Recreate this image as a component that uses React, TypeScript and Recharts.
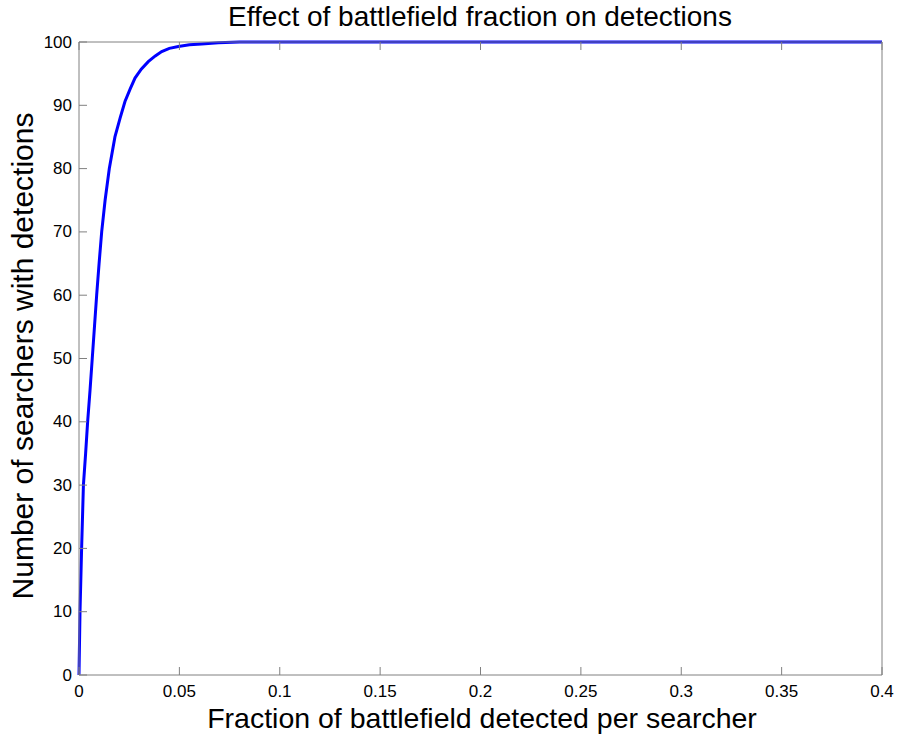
import { LineChart, Line, XAxis, YAxis } from 'recharts';

const fraction = [
  0, 0.0005, 0.0013, 0.0022, 0.0033, 0.0043, 0.0055, 0.0066, 0.0077, 0.0088, 0.01, 0.0113, 0.013, 0.0151,
  0.0179, 0.0205, 0.0229, 0.0255, 0.0279, 0.031, 0.0345, 0.038, 0.0412, 0.045, 0.0495, 0.055, 0.0611, 0.0694,
  0.08, 0.4,
];
const searchers = [
  0, 10, 20, 30, 35, 40, 45, 50, 55, 60, 65, 70, 75, 80, 85, 88, 90.6, 92.6, 94.3, 95.7, 96.9, 97.8, 98.5, 99,
  99.3, 99.55, 99.7, 99.9, 100, 100,
];
const xTicks = [0, 0.05, 0.1, 0.15, 0.2, 0.25, 0.3, 0.35, 0.4];
const yTicks = [0, 10, 20, 30, 40, 50, 60, 70, 80, 90, 100];

const data = fraction.map((f, i) => ({ f, n: searchers[i] }));

const FONT = '"Liberation Sans", Arial, sans-serif';
const AXIS = '#808080';
const TICK = 8;

function LeftTick({ x, y, payload }: any) {
  return (
    <g>
      <line x1={x} x2={x + TICK} y1={y} y2={y} stroke={AXIS} />
      <text x={x - 7} y={y} textAnchor="end" dominantBaseline="central" fontSize={17} fontFamily={FONT} fill="#000">
        {payload.value}
      </text>
    </g>
  );
}

function RightTick({ x, y }: any) {
  return <line x1={x} x2={x - TICK} y1={y} y2={y} stroke={AXIS} />;
}

function BottomTick({ x, y, payload }: any) {
  return (
    <g>
      <line x1={x} x2={x} y1={y} y2={y - TICK} stroke={AXIS} />
      <text x={x} y={y + 22} textAnchor="middle" fontSize={17} fontFamily={FONT} fill="#000">
        {payload.value}
      </text>
    </g>
  );
}

function TopTick({ x, y }: any) {
  return <line x1={x} x2={x} y1={y} y2={y + TICK} stroke={AXIS} />;
}

export default function App() {
  return (
    <div style={{ position: 'absolute', left: 0, top: 0, width: 901, height: 736, background: '#fff' }}>
      <LineChart width={901} height={736} data={data} margin={{ top: 41, right: 18, bottom: 31, left: 39 }}>
        <XAxis
          xAxisId="b"
          dataKey="f"
          type="number"
          domain={[0, 0.4]}
          ticks={xTicks}
          height={30}
          tickSize={0}
          tickMargin={0}
          tickLine={false}
          stroke={AXIS}
          tick={<BottomTick />}
          interval={0}
        />
        <XAxis
          xAxisId="t"
          orientation="top"
          dataKey="f"
          type="number"
          domain={[0, 0.4]}
          ticks={xTicks}
          height={1}
          tickSize={0}
          tickMargin={0}
          tickLine={false}
          stroke={AXIS}
          tick={<TopTick />}
          interval={0}
        />
        <YAxis
          yAxisId="l"
          type="number"
          domain={[0, 100]}
          ticks={yTicks}
          width={40}
          tickSize={0}
          tickMargin={0}
          tickLine={false}
          stroke={AXIS}
          tick={<LeftTick />}
          interval={0}
        />
        <YAxis
          yAxisId="r"
          orientation="right"
          type="number"
          domain={[0, 100]}
          ticks={yTicks}
          width={1}
          tickSize={0}
          tickMargin={0}
          tickLine={false}
          stroke={AXIS}
          tick={<RightTick />}
          interval={0}
        />
        <Line
          xAxisId="b"
          yAxisId="l"
          dataKey="n"
          type="linear"
          stroke="#0000ff"
          strokeWidth={3}
          dot={false}
          isAnimationActive={false}
        />
      </LineChart>
      <svg
        width={901}
        height={736}
        style={{ position: 'absolute', left: 0, top: 0, pointerEvents: 'none' }}
        fontFamily={FONT}
      >
        <text x={480} y={26} textAnchor="middle" fontSize={28} fill="#000">
          Effect of battlefield fraction on detections
        </text>
        <text x={482} y={728} textAnchor="middle" fontSize={28.5} fill="#000">
          Fraction of battlefield detected per searcher
        </text>
        <text x={33} y={356} textAnchor="middle" fontSize={30} fill="#000" transform="rotate(-90 33 356)">
          Number of searchers with detections
        </text>
      </svg>
    </div>
  );
}
